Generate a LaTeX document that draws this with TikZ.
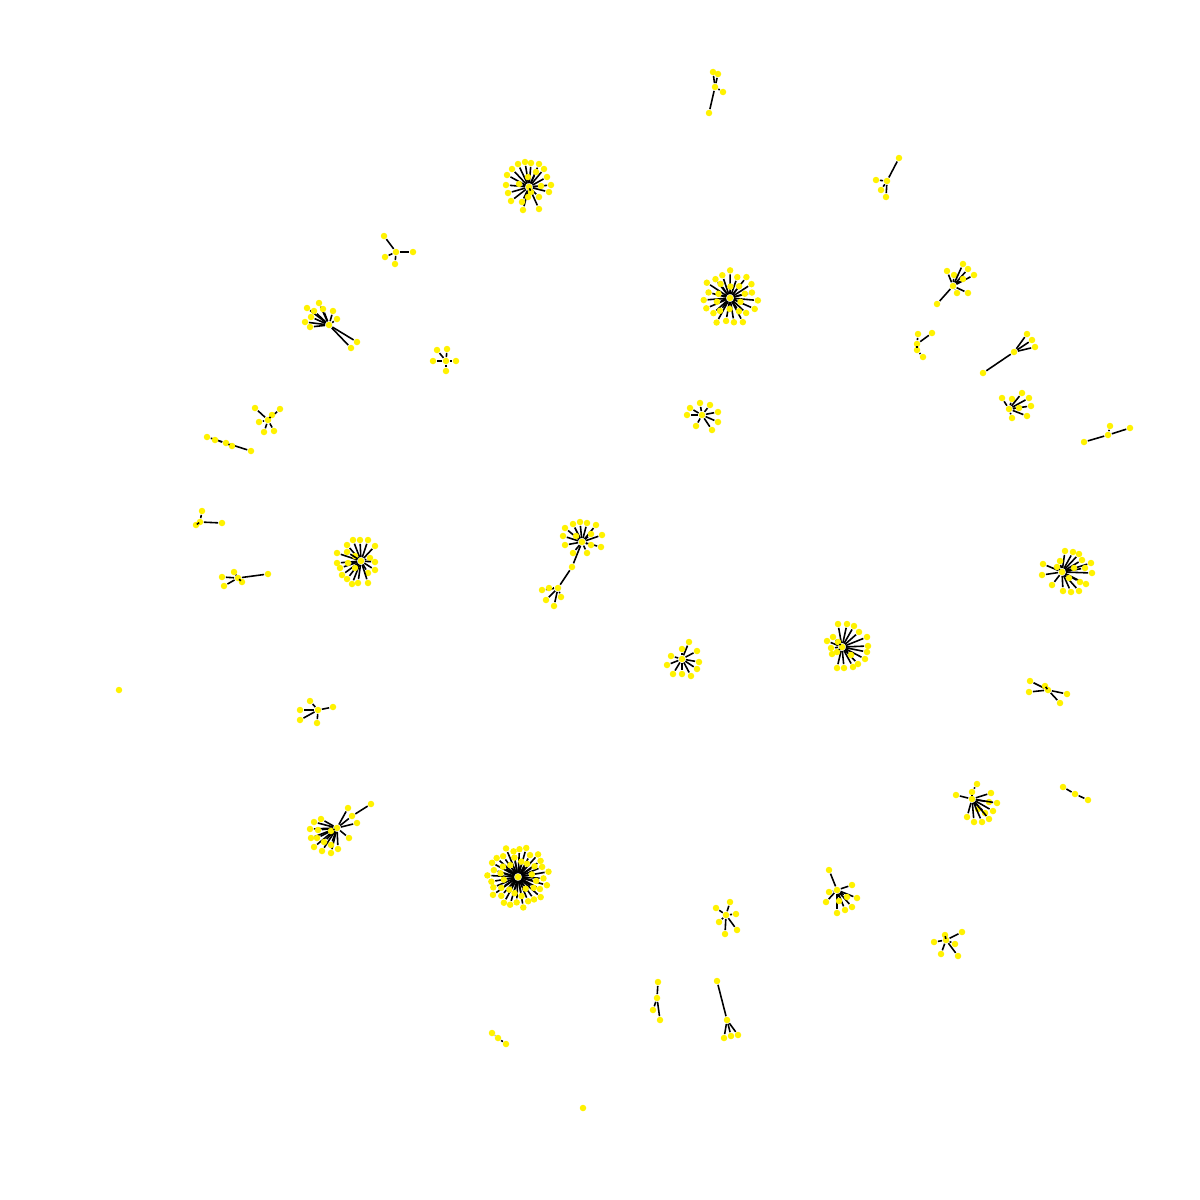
\documentclass[tikz,border=0pt]{standalone}
\tikzset{
  sommet/.style={circle,fill=yellow,inner sep=0pt,minimum size=0.065cm},
  arete/.style={black,line width=0.45pt}
}
% etoile : centre + liste de feuilles
\newcommand{\grappe}[4]{%
  \node[sommet] (#1) at (#2,#3) {};
  \foreach \lx/\ly [count=\i] in {#4}{
    \node[sommet] (#1-\i) at (\lx,\ly) {};
    \draw[arete] (#1) -- (#1-\i);
  }}
% couronne de feuilles autour d'un centre
\newcommand{\couronne}[5]{%
  \foreach \k in {1,...,#2}{
    \node[sommet] (#1-#5\k) at ([shift={({#4+360*\k/#2}:{#3+3*sin(137*\k)})}]#1) {};
    \draw[arete] (#1) -- (#1-#5\k);
  }}
\begin{document}
\begin{tikzpicture}[x=0.01cm,y=-0.01cm]
    \useasboundingbox (0,0) rectangle (1200,1200);
    % grandes etoiles
    \grappe{A}{529}{187}{507/175,512/169,518/164,525/162,531/163,539/164,544/169,547/177,551/185,549/192,539/197,539/209,523/210,522/202,511/201,508/193,506/185,528/177,536/172,519/184,541/186,528/197,531/192}
    \node[sommet] (B) at (730,298) {};
    \couronne{B}{19}{25}{5}{o}
    \couronne{B}{10}{14}{20}{i}
    \node[sommet] (C) at (518,877) {};
    \couronne{C}{28}{28}{3}{o}
    \couronne{C}{16}{17}{12}{i}
    % etoiles moyennes
    \grappe{D}{361}{561}{337/553,347/545,353/540,360/540,368/540,375/546,370/558,375/562,375/570,368/573,368/583,358/583,352/584,347/579,342/575,340/568,337/563,348/563,355/556,355/568,347/552}
    \grappe{E}{1062}{572}{1043/564,1042/575,1052/585,1063/591,1071/592,1079/591,1086/584,1092/573,1091/563,1079/554,1073/552,1065/551,1082/560,1085/568,1080/582,1069/578,1057/567,1074/568,1060/561}
    \grappe{F}{842}{647}{838/624,847/624,854/626,859/632,867/637,868/646,867/652,865/659,858/664,853/667,844/668,837/668,832/654,831/648,827/641,833/637,838/642,837/652,851/655}
    \grappe{G}{582}{542}{565/528,573/524,580/522,587/523,596/525,602/535,601/547,591/545,591/534,587/553,573/553,565/545,563/536,576/536}
    \grappe{Gb}{558}{588}{542/590,549/588,546/600,554/606,561/597}
    \node[sommet] (Gm) at (572,567) {};
    \draw[arete] (G) -- (Gm) -- (Gb);
    \grappe{H}{329}{325}{307/308,314/311,319/303,323/309,333/311,337/319,305/322,310/327,311/317,357/342,351/348}
    \grappe{I}{337}{828}{348/808,352/816,357/823,349/838,338/849,331/853,322/851,314/847,311/838,310/829,314/822,321/819,318/830,317/838,324/842,331/845,331/831}
    \node[sommet] (It) at (371,804) {};
    \draw[arete] (I-2) -- (It);
    \grappe{J}{972}{799}{972/792,956/795,991/793,989/802,997/803,993/811,985/813,978/809,989/819,982/822,974/822,967/817}
    \node[sommet] (Jt) at (977,784) {};
    \draw[arete] (J-1) -- (Jt);
    \grappe{K}{837}{890}{829/870,852/885,857/898,852/907,845/910,837/913,839/901,847/897,829/892,826/902}
    \grappe{L}{682}{659}{689/642,697/651,699/662,697/669,691/676,682/674,673/674,667/665,671/656,682/649}
    % petits arbres
    \grappe{p1}{715}{87}{713/72,718/74,723/92,709/113}
    \grappe{p2}{887}{181}{899/158,876/180,881/190,886/197}
    \grappe{p3}{396}{252}{384/236,385/257,413/252,395/264}
    \grappe{p4}{953}{286}{947/271,954/275,963/264,968/269,974/275,963/279,957/293,968/293,937/304}
    \grappe{p5}{446}{361}{437/350,447/349,456/361,433/361,446/371}
    \grappe{p6}{917}{344}{918/334,932/333,917/350}
    \node[sommet] (p6t) at (923,357) {};
    \draw[arete] (p6-3) -- (p6t);
    \grappe{p7}{1014}{352}{1027/334,1032/340,1035/347,983/373}
    \grappe{p8}{1009}{409}{1002/398,1012/399,1022/393,1029/398,1031/406,1019/408,1027/416,1012/418}
    \grappe{p9}{702}{415}{690/408,700/403,710/405,718/412,718/422,712/430,696/426,687/415}
    \grappe{p10}{268}{420}{255/408,280/409,259/422,264/432,274/431,272/415}
    \grappe{p11}{226}{443}{207/437,215/440,251/451,232/446}
    \grappe{p12}{1108}{435}{1084/442,1130/428,1110/426}
    \grappe{p13}{200}{522}{202/511,196/525,222/523}
    \grappe{p14}{238}{578}{222/577,224/586,268/574,234/572,242/582}
    \grappe{p15}{1048}{690}{1030/681,1029/692,1060/703,1067/694,1045/686}
    \grappe{p16}{318}{710}{300/710,300/720,317/723,333/707,310/701}
    \grappe{p17}{1075}{794}{1063/787,1088/800}
    \grappe{p18}{726}{915}{716/908,730/902,736/914,737/930,725/934,719/922}
    \grappe{p19}{946}{940}{934/942,962/932,955/944,958/956,941/954,945/935}
    \grappe{p20}{657}{998}{658/982,653/1010,660/1020}
    \grappe{p21}{727}{1020}{717/981,724/1038,731/1036,738/1035}
    \grappe{p22}{498}{1038}{492/1033,506/1044}
    % sommets isoles
    \node[sommet] (s1) at (119,690) {};
    \node[sommet] (s2) at (583,1108) {};
\end{tikzpicture}
\end{document}
